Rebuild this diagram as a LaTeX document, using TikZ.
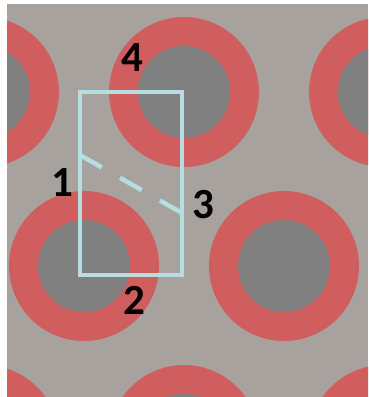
\documentclass[tikz,border=0pt]{standalone}
\usepackage{fontspec}
\setmainfont{Carlito}
\definecolor{bggray}{HTML}{A8A29F}
\definecolor{ringred}{HTML}{D15E5E}
\definecolor{coregray}{HTML}{808080}
\definecolor{boxblue}{HTML}{B4DEE2}
\tikzset{
    ring/.style={fill=ringred},
    core/.style={fill=coregray},
    cellbox/.style={draw=boxblue, line width=4.5pt},
    lbl/.style={inner sep=0pt, font=\fontsize{43}{43}\selectfont\bfseries}
}

\begin{document}
\begin{tikzpicture}[x=1pt, y=-1pt]
    \useasboundingbox (0,0) rectangle (368,397);
    \fill[white] (0,0) rectangle (368,397);
    % Lattice
    \begin{scope}
        \clip (7,4) rectangle (368,397);
        \fill[bggray] (7,4) rectangle (368,397);
        \foreach \cx/\cy in {-16/92, 184/92, 384/92, 84/266, 284/266, -16/440, 184/440, 384/440} {
            \fill[ring] (\cx,\cy) circle [radius=75pt];
            \fill[core] (\cx,\cy) circle [radius=46pt];
        }
    \end{scope}
    % Unit cell
    \coordinate (tl) at (80,92);
    \coordinate (br) at (182,275);
    \coordinate (p1) at (80,155);
    \coordinate (p3) at (182,213);
    \draw[cellbox] (tl) rectangle (br);
    \draw[cellbox, dash pattern=on 25pt off 21pt] (p1) -- (p3);
    % Labels
    \node[lbl] (n1) at (62,183) {1};
    \node[lbl] (n2) at (134,300) {2};
    \node[lbl] (n3) at (203,205) {3};
    \node[lbl] (n4) at (132,58) {4};
\end{tikzpicture}
\end{document}
